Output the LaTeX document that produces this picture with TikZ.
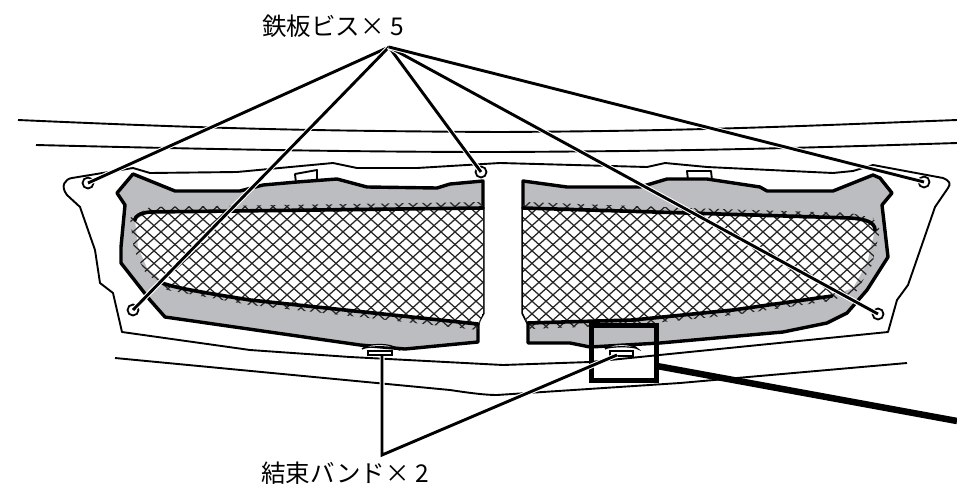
\documentclass[tikz,border=0pt]{standalone}
\usepackage{fontspec}
\newfontfamily\cjk{Noto Sans CJK JP}
\definecolor{panelgrey}{RGB}{187,189,192}
\tikzset{
  bodyline/.style={line width=1.9pt,line join=round},
  panel/.style={draw=black,fill=panelgrey,line width=3.4pt,line join=round},
  seam/.style={line width=3.6pt,line join=round,line cap=round},
  meshline/.style={line width=1.25pt,black!85},
  leader/.style={line width=2.9pt,preaction={draw=white,line width=5pt}},
  screw/.style={circle,draw,fill=white,line width=1.8pt,inner sep=0pt,minimum size=11pt},
  tag/.style={font=\cjk\fontsize{24.5}{27}\selectfont,inner sep=0pt},
}
\newcommand{\meshfill}{%
  \foreach \i in {-30,...,80} {
    \draw[meshline] (\i*14,150)--++(300,270);
    \draw[meshline] (\i*14,150)--++(-300,270);
  }}
\begin{document}
\begin{tikzpicture}[x=1pt,y=-1pt]
\useasboundingbox (0,0) rectangle (957,487);
% long lines of the body
\draw[bodyline] (18,120) .. controls (200,128) and (300,131) .. (500,132) .. controls (700,131) and (800,126) .. (957,120);
\draw[bodyline] (36,145) .. controls (200,149) and (350,152) .. (500,152) .. controls (700,151) and (800,148) .. (957,143);
\draw[bodyline] (133,168)--(150,173)--(237,172)--(333,163)--(357,168)--(417,168)--(500,163)--(647,167)--(665,163)--(707,167)--(833,173)--(853,171)--(873,165)--(943,178)
  .. controls (950,181) and (951,184) .. (948,188)--(935,207)--(908,285)--(897,300)--(888,332)--(590,362)--(503,365)--(350,357)--(250,350)--(122,332)--(113,293)--(100,283)--(95,250)--(80,207)--(67,195)
  .. controls (60,186) and (65,179) .. (72,178)--(133,168);
\draw[bodyline] (115,358)--(450,390) .. controls (470,393) and (485,395) .. (497,395)--(680,383)--(907,363);
% tabs on top
\draw[bodyline,fill=white] (296,183)--(295,174)--(317,170)--(317,180);
\draw[bodyline,fill=white] (688,180)--(687,171)--(711,171)--(712,180);
% left grille
\draw[panel] (133,174)--(175,191)--(240,191)--(263,185)--(297,182)--(337,179)--(367,187)--(437,188)--(450,184)--(483,181)--(483,313)--(478,322)--(478,342)--(405,349)--(360,345)--(165,317)--(150,300)--(121,263)--(121,247)--(125,205)--(117,193)--cycle;
\begin{scope}
\clip (483,202)--(150,207)--(130,218)--(134,250)--(145,272)--(167,290)--(250,305)--(478,330)--(483,313)--cycle;
\fill[white] (483,207)--(150,212)--(135,220)--(138,247)--(147,268)--(167,285)--(250,300)--(478,324)--(483,313)--cycle;
\meshfill
\end{scope}
\draw[seam] (483,208)--(150,212) .. controls (140,213) and (135,216) .. (135,220);
\draw[seam] (160,282) .. controls (170,287) and (200,292) .. (250,300)--(478,324);
% right grille
\draw[panel] (523,181)--(567,187)--(640,187)--(667,179)--(707,179)--(760,187)--(767,191)--(833,191)--(873,175)--(880,178)--(892,193)--(882,205)--(888,257)--(867,290)--(847,313)--(827,323)--(783,332)--(660,343)--(590,347)--(570,343)--(528,343)--(528,323)--(523,313)--cycle;
\begin{scope}
\clip (523,202)--(687,208)--(850,213)--(873,218)--(880,230)--(872,265)--(856,292)--(830,301)--(733,315)--(633,325)--(528,329)--(523,313)--cycle;
\fill[white] (523,207)--(687,213)--(850,218)--(870,222)--(875,230)--(867,263)--(853,288)--(830,296)--(733,310)--(633,320)--(528,323)--(523,313)--cycle;
\meshfill
\end{scope}
\draw[seam] (523,208)--(687,213)--(850,218) .. controls (865,219) and (875,222) .. (875,230);
\draw[seam] (832,296)--(733,310)--(633,320)--(528,323);
% band clips
\draw[line width=1.2pt,fill=white] (362,349) .. controls (366,343) and (393,343) .. (397,349) .. controls (393,346) and (366,346) .. (362,349);
\draw[line width=1.4pt,fill=white] (368,351) rectangle (392,355);
\draw[line width=1.2pt,fill=white] (605,349) .. controls (609,343) and (634,343) .. (638,349) .. controls (634,346) and (609,346) .. (605,349);
\draw[line width=1.4pt,fill=white] (610,351) rectangle (633,356);
% detail box
\node[draw,line width=4.4pt,minimum width=65pt,minimum height=55pt,inner sep=0pt] (detailbox) at (624,353) {};
\coordinate (offpage) at (957,421);
\draw[line width=6.5pt] (detailbox.-21)--(offpage);
% screws
\node[screw] (screwa) at (88,183) {};
\node[screw] (screwb) at (133,310) {};
\node[screw] (screwc) at (481,172) {};
\node[screw] (screwd) at (878,314) {};
\node[screw] (screwe) at (924,182) {};
\node[tag] (platetag) at (333,26) {鉄板ビス× 5};
\node[tag] (bandtag) at (345,473) {結束バンド× 2};
\coordinate (topapex) at (389,47);
\coordinate (lowapex) at (382,455);
\coordinate (banda) at (382,356);
\coordinate (bandb) at (617,355);
\foreach \s in {screwa,screwb,screwc,screwd,screwe}
  \draw[leader] (topapex)--(\s.center);
\draw[leader,line join=miter] (banda)--(lowapex)--(bandb);
\end{tikzpicture}
\end{document}
